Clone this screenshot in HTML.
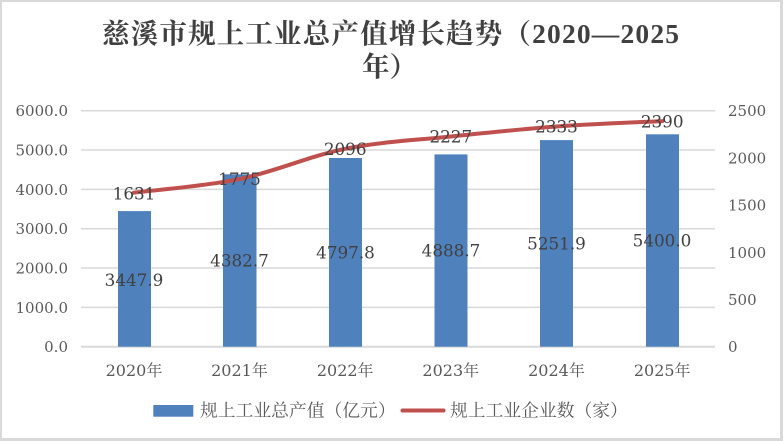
<!DOCTYPE html>
<html>
<head>
<meta charset="utf-8">
<style>
  html,body{margin:0;padding:0;background:#fff;}
  body{width:783px;height:441px;overflow:hidden;}
  svg{display:block;}
</style>
</head>
<body>
<svg width="783" height="441" viewBox="0 0 783 441" xmlns="http://www.w3.org/2000/svg">
  <!-- background & border -->
  <rect x="0" y="0" width="783" height="441" fill="#d9d9d9"/>
  <rect x="2" y="2" width="778" height="436" fill="#ffffff"/>

  <!-- Title -->
  <text x="102" y="43" textLength="577" lengthAdjust="spacing" font-family="'Liberation Serif','Noto Serif CJK SC',serif" font-weight="bold" font-size="27.5" fill="#404040">慈溪市规上工业总产值增长趋势（2020—2025</text>
  <text x="362" y="76" font-family="'Liberation Serif','Noto Serif CJK SC',serif" font-weight="bold" font-size="27.5" fill="#404040">年）</text>

  <!-- gridlines -->
  <g stroke="#d9d9d9" stroke-width="1.5">
    <line x1="81" y1="110.7" x2="715" y2="110.7"/>
    <line x1="81" y1="150.0" x2="715" y2="150.0"/>
    <line x1="81" y1="189.4" x2="715" y2="189.4"/>
    <line x1="81" y1="228.7" x2="715" y2="228.7"/>
    <line x1="81" y1="268.0" x2="715" y2="268.0"/>
    <line x1="81" y1="307.4" x2="715" y2="307.4"/>
  </g>
  <line x1="81" y1="346.7" x2="715" y2="346.7" stroke="#d9d9d9" stroke-width="2"/>

  <!-- left axis labels -->
  <g font-family="'DejaVu Serif',serif" font-size="15" fill="#595959" text-anchor="end">
    <text x="68" y="116.2">6000.0</text>
    <text x="68" y="155.5">5000.0</text>
    <text x="68" y="194.9">4000.0</text>
    <text x="68" y="234.2">3000.0</text>
    <text x="68" y="273.5">2000.0</text>
    <text x="68" y="312.9">1000.0</text>
    <text x="68" y="352.2">0.0</text>
  </g>

  <!-- right axis labels -->
  <g font-family="'DejaVu Serif',serif" font-size="15" fill="#595959" text-anchor="start">
    <text x="728" y="116.2">2500</text>
    <text x="728" y="163.4">2000</text>
    <text x="728" y="210.6">1500</text>
    <text x="728" y="257.8">1000</text>
    <text x="728" y="305.0">500</text>
    <text x="728" y="352.2">0</text>
  </g>

  <!-- bars -->
  <g fill="#4f81bd">
    <rect x="118" y="211.1" width="33" height="135.6"/>
    <rect x="223" y="174.3" width="33.5" height="172.4"/>
    <rect x="329" y="158.0" width="33" height="188.7"/>
    <rect x="434.5" y="154.4" width="33" height="192.3"/>
    <rect x="540" y="140.1" width="33" height="206.6"/>
    <rect x="646" y="134.3" width="33" height="212.4"/>
  </g>

  <!-- line -->
  <path d="M133.8,192.7 C151.4,190.4 204.3,186.4 239.5,179.1 C274.7,171.8 310.0,155.9 345.2,148.8 C380.4,141.7 415.6,140.2 450.8,136.5 C486.0,132.8 521.3,129.1 556.5,126.5 C591.7,123.9 644.6,122.0 662.2,121.1"
        fill="none" stroke="#c0504d" stroke-width="4" stroke-linecap="round" stroke-linejoin="round"/>

  <!-- bar data labels -->
  <g font-family="'DejaVu Serif',serif" font-size="16.8" fill="#404040" text-anchor="middle">
    <text x="134" y="286">3447.9</text>
    <text x="239.5" y="266.6">4382.7</text>
    <text x="345.5" y="258.5">4797.8</text>
    <text x="451" y="256.7">4888.7</text>
    <text x="556.5" y="249.5">5251.9</text>
    <text x="662" y="246.6">5400.0</text>
  </g>

  <!-- line data labels -->
  <g font-family="'DejaVu Serif',serif" font-size="16.8" fill="#404040" text-anchor="middle">
    <text x="134" y="199.3">1631</text>
    <text x="239.5" y="185.2">1775</text>
    <text x="345.2" y="155.2">2096</text>
    <text x="450.8" y="142.6">2227</text>
    <text x="556.5" y="132.6">2333</text>
    <text x="662.2" y="127.4">2390</text>
  </g>

  <!-- x axis labels -->
  <g font-family="'DejaVu Serif','Noto Serif CJK SC',serif" font-size="16" fill="#595959" text-anchor="middle">
    <text x="134" y="376">2020年</text>
    <text x="239.5" y="376">2021年</text>
    <text x="345.2" y="376">2022年</text>
    <text x="450.8" y="376">2023年</text>
    <text x="556.5" y="376">2024年</text>
    <text x="662.2" y="376">2025年</text>
  </g>

  <!-- legend -->
  <rect x="153.3" y="405" width="40" height="11.7" fill="#4f81bd"/>
  <text x="200" y="416.5" font-family="'Noto Serif CJK SC',serif" font-size="17.8" fill="#595959">规上工业总产值（亿元）</text>
  <line x1="402.5" y1="410.5" x2="443.5" y2="410.5" stroke="#c0504d" stroke-width="4" stroke-linecap="round"/>
  <text x="450" y="416.5" font-family="'Noto Serif CJK SC',serif" font-size="17.8" fill="#595959">规上工业企业数（家）</text>
</svg>
</body>
</html>
